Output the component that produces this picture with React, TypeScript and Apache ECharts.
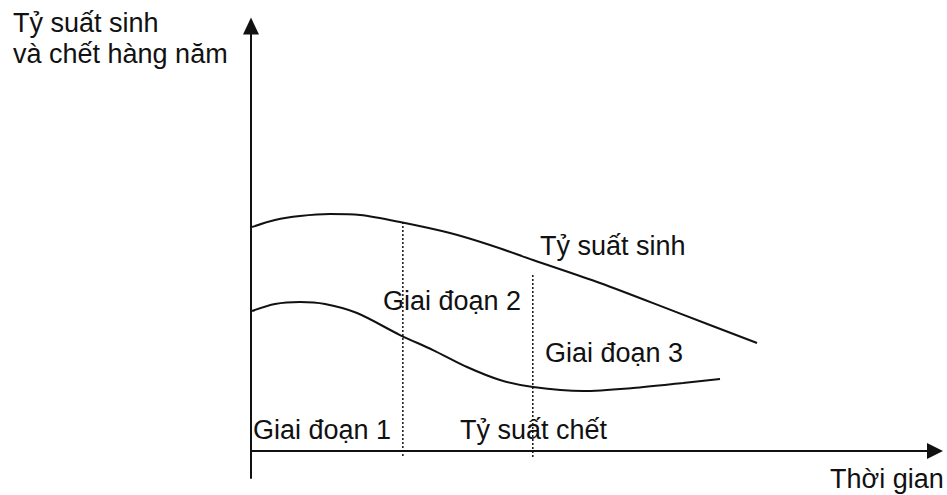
import React, { useEffect, useRef } from "react";
import * as echarts from "echarts";

// Birth rate curve: [time, rate]
const birthRate: [number, number][] = [
  [0.15, 52.7], [3.51, 54.35], [7.16, 55.29], [11.55, 55.76], [15.94, 55.53],
  [21.78, 53.88], [29.09, 51.29], [34.94, 48.47], [41.23, 44.94],
  [51.02, 39.53], [62.0, 32.8], [73.98, 25.41],
];
// Death rate curve: [time, rate]
const deathRate: [number, number][] = [
  [0.15, 32.94], [3.51, 34.59], [7.16, 35.06], [10.82, 34.59], [15.5, 32.47],
  [21.78, 27.29], [26.61, 23.76], [31.58, 19.76], [36.4, 16.71], [41.23, 15.06],
  [48.54, 14.12], [55.85, 14.82], [63.16, 16.0], [68.57, 16.94],
];
// Stage boundaries (dotted verticals): [time, top, bottom]
const stageBoundaries: [number, number, number][] = [
  [22.2, 53.9, -1.4],
  [41.2, 41.4, -1.4],
];
const yAxisTitle = ["Tỷ suất sinh", "và chết hàng năm"];
const xAxisTitle = "Thời gian";
const curveLabels = ["Tỷ suất sinh", "Tỷ suất chết"];
const stageLabels = ["Giai đoạn 1", "Giai đoạn 2", "Giai đoạn 3"];

const FONT = '27px "Liberation Sans", Arial, sans-serif';
const INK = "#111";

export default function App() {
  const ref = useRef<HTMLDivElement>(null);
  useEffect(() => {
    if (!ref.current) return;
    const chart = echarts.init(ref.current, null, { renderer: "svg" });
    const txt = (text: string, x: number, y: number) => ({
      type: "text",
      x,
      y,
      style: { text, font: FONT, fill: INK, textAlign: "left", textVerticalAlign: "middle" },
      silent: true,
    });
    chart.setOption({
      animation: false,
      backgroundColor: "#fff",
      grid: { left: 251, right: 12, top: 26, bottom: 17 },
      xAxis: {
        type: "value",
        min: 0,
        max: 100,
        axisLine: {
          onZero: true,
          symbol: ["none", "triangle"],
          symbolSize: [16, 16],
          lineStyle: { color: INK, width: 2 },
        },
        axisTick: { show: false },
        axisLabel: { show: false },
        splitLine: { show: false },
      },
      yAxis: {
        type: "value",
        min: -6.35,
        max: 100,
        axisLine: {
          show: true,
          onZero: true,
          symbol: ["none", "triangle"],
          symbolSize: [16, 17],
          lineStyle: { color: INK, width: 2 },
        },
        axisTick: { show: false },
        axisLabel: { show: false },
        splitLine: { show: false },
      },
      series: [
        {
          type: "line",
          data: birthRate,
          smooth: 0.3,
          showSymbol: false,
          lineStyle: { color: INK, width: 2 },
          silent: true,
        },
        {
          type: "line",
          data: deathRate,
          smooth: 0.3,
          showSymbol: false,
          lineStyle: { color: INK, width: 2 },
          silent: true,
        },
        ...stageBoundaries.map(([x, top, bottom]) => ({
          type: "line",
          data: [[x, top], [x, bottom]],
          showSymbol: false,
          lineStyle: { color: INK, width: 1.5, type: [2, 2] },
          silent: true,
        })),
      ],
      graphic: [
        txt(yAxisTitle[0], 13, 22.6),
        txt(yAxisTitle[1], 13, 53.6),
        txt(curveLabels[0], 540, 245.6),
        txt(stageLabels[1], 383, 300.6),
        txt(stageLabels[2], 545, 352.6),
        txt(stageLabels[0], 253, 429.6),
        txt(curveLabels[1], 460, 429.6),
        txt(xAxisTitle, 830, 478.6),
      ],
    });
    return () => chart.dispose();
  }, []);
  return (
    <div
      ref={ref}
      style={{ position: "fixed", left: 0, top: 0, width: 947, height: 495, background: "#fff" }}
    />
  );
}
